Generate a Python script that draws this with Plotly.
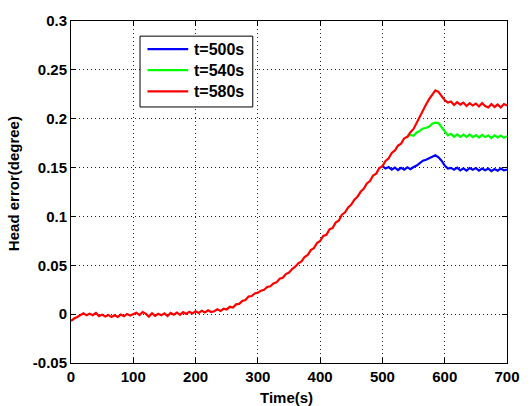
import plotly.graph_objects as go

# ---- data ----
t_red = list(range(0, 705, 5))
red_vals = [
    -0.0070, -0.0045, -0.0030, -0.0015, 0.0008, -0.0012, 0.0005, -0.0010, 0.0012, -0.0020,
    -0.0005, -0.0025, -0.0008, -0.0030, -0.0012, -0.0028, -0.0005, -0.0022, 0.0002, -0.0015,
    -0.0003, 0.0015, -0.0010, 0.0022, 0.0005, -0.0025, 0.0010, -0.0018, 0.0003, -0.0012,
    0.0008, -0.0020, 0.0012, -0.0005, 0.0015, -0.0008, 0.0020, 0.0002, 0.0025, 0.0008,
    0.0030, 0.0012, 0.0035, 0.0018, 0.0040, 0.0022, 0.0030, 0.0050, 0.0032, 0.0055,
    0.0048, 0.0075, 0.0068, 0.0100, 0.0105, 0.0135, 0.0145, 0.0180, 0.0185, 0.0212,
    0.0220, 0.0240, 0.0250, 0.0278, 0.0285, 0.0315, 0.0325, 0.0362, 0.0372, 0.0410,
    0.0425, 0.0462, 0.0485, 0.0520, 0.0540, 0.0585, 0.0605, 0.0655, 0.0675, 0.0728,
    0.0748, 0.0800, 0.0812, 0.0868, 0.0880, 0.0938, 0.0958, 0.1018, 0.1042, 0.1092,
    0.1122, 0.1172, 0.1202, 0.1252, 0.1282, 0.1338, 0.1362, 0.1418, 0.1438, 0.1495,
    0.1515, 0.1568, 0.1595, 0.1650, 0.1675, 0.1725, 0.1745, 0.1800, 0.1815, 0.1862,
    0.1895, 0.1962, 0.2025, 0.2085, 0.2145, 0.2200, 0.2245, 0.2290, 0.2275, 0.2235,
    0.2190, 0.2165, 0.2175, 0.2140, 0.2170, 0.2145, 0.2165, 0.2130, 0.2160, 0.2135,
    0.2155, 0.2125, 0.2160, 0.2130, 0.2115, 0.2150, 0.2120, 0.2145, 0.2115, 0.2150,
    0.2135,
]

t_green = list(range(540, 705, 5))
green_vals = [
    0.1815, 0.1835, 0.1825, 0.1860, 0.1875, 0.1900, 0.1905, 0.1920, 0.1950, 0.1960,
    0.1955, 0.1915, 0.1865, 0.1830, 0.1845, 0.1815, 0.1840, 0.1815, 0.1838, 0.1815,
    0.1840, 0.1812, 0.1832, 0.1808, 0.1835, 0.1812, 0.1828, 0.1802, 0.1830, 0.1808,
    0.1828, 0.1805, 0.1822,
]

t_blue = list(range(500, 705, 5))
blue_vals = [
    0.1515, 0.1490, 0.1505, 0.1478, 0.1500, 0.1475, 0.1497, 0.1478, 0.1502, 0.1483,
    0.1505, 0.1520, 0.1545, 0.1570, 0.1580, 0.1595, 0.1615, 0.1625, 0.1605, 0.1570,
    0.1520, 0.1490, 0.1497, 0.1478, 0.1500, 0.1472, 0.1492, 0.1468, 0.1495, 0.1478,
    0.1495, 0.1468, 0.1490, 0.1472, 0.1490, 0.1463, 0.1485, 0.1468, 0.1490, 0.1472,
    0.1480,
]

series_names = ["t=500s", "t=540s", "t=580s"]
series_colors = ["#0000FF", "#00FF00", "#FF0000"]
x_ticks = [0, 100, 200, 300, 400, 500, 600, 700]
y_ticks = [-0.05, 0, 0.05, 0.1, 0.15, 0.2, 0.25, 0.3]
y_tick_text = ["-0.05", "0", "0.05", "0.1", "0.15", "0.2", "0.25", "0.3"]

FONT = "Liberation Sans, Arial, sans-serif"

fig = go.Figure()
for tx, vals, name, col in zip([t_blue, t_green, t_red], [blue_vals, green_vals, red_vals],
                               series_names, series_colors):
    fig.add_trace(go.Scatter(x=tx, y=vals, mode="lines", name=name,
                             line=dict(color=col, width=2.2), showlegend=False))

axis_common = dict(
    showline=True, linecolor="black", linewidth=1, mirror="ticks",
    ticks="inside", ticklen=5, tickcolor="black",
    showgrid=True, gridcolor="#222222", gridwidth=1, griddash="1px,3px",
    zeroline=False,
    tickfont=dict(family=FONT, size=15, color="black", weight="bold"),
)

fig.update_xaxes(range=[0, 700], tickvals=x_ticks, **axis_common)
fig.update_yaxes(range=[-0.05, 0.3], tickvals=y_ticks, ticktext=y_tick_text, **axis_common)

# ---- manual legend (MATLAB-style box) ----
shapes = [dict(type="rect", xref="paper", yref="paper", x0=0.1583, x1=0.4169,
               y0=0.7486, y1=0.9557, line=dict(color="black", width=1),
               fillcolor="white", layer="above")]
annotations = []
leg_y = [0.918, 0.8563, 0.7943]
for name, col, yy in zip(series_names, series_colors, leg_y):
    shapes.append(dict(type="line", xref="paper", yref="paper", x0=0.1754, x1=0.2688,
                       y0=yy, y1=yy, line=dict(color=col, width=2.2), layer="above"))
    annotations.append(dict(text=name, xref="paper", yref="paper", x=0.2768, y=yy,
                            xanchor="left", yanchor="middle", showarrow=False,
                            font=dict(family=FONT, size=16, color="black", weight="bold")))

annotations += [
    dict(text="Time(s)", xref="paper", yref="paper", x=0.495, y=0, yshift=-34,
         xanchor="center", yanchor="middle", showarrow=False,
         font=dict(family=FONT, size=15, color="black", weight="bold")),
    dict(text="Head error(degree)", xref="paper", yref="paper", x=0, xshift=-58,
         y=0.523, xanchor="center", yanchor="middle", textangle=-90, showarrow=False,
         font=dict(family=FONT, size=15, color="black", weight="bold")),
]

fig.update_layout(
    width=532, height=406,
    margin=dict(l=71, r=22, t=13, b=43),
    paper_bgcolor="white", plot_bgcolor="white",
    font=dict(family=FONT, size=15, color="black"),
    showlegend=False,
    shapes=shapes,
    annotations=annotations,
)

fig.write_html("out.html")
